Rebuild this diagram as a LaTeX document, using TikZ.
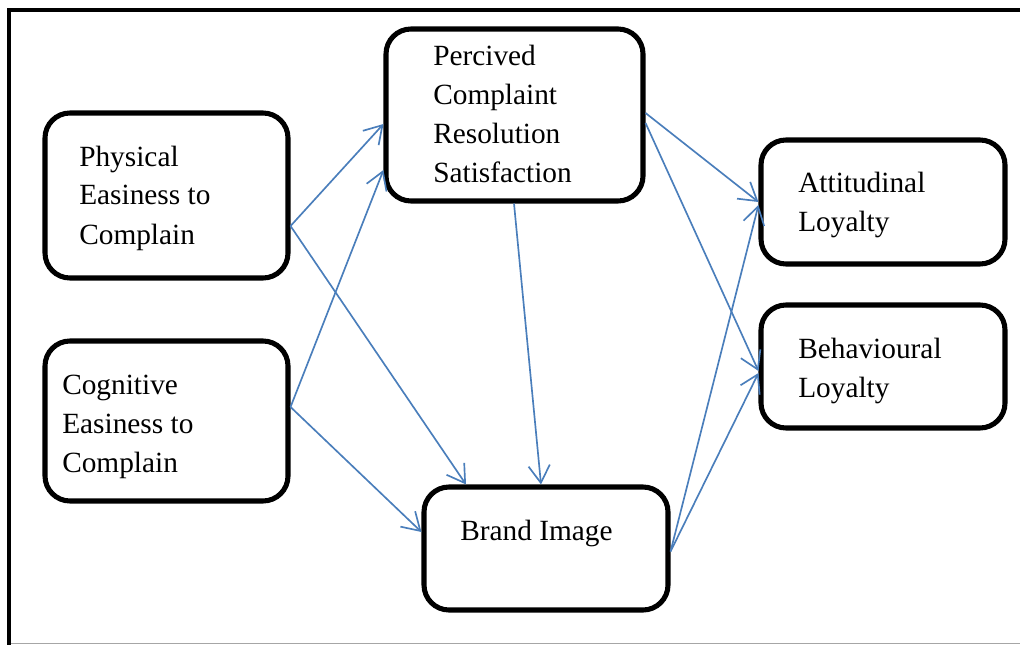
\documentclass[tikz,border=0pt]{standalone}
\usepackage{fontspec}
\setmainfont{Liberation Serif}
\usetikzlibrary{arrows.meta,calc}
\definecolor{arrowblue}{HTML}{4A7EBB}
\definecolor{framegray}{HTML}{A6A6A6}
\tikzset{
  box/.style={draw=black, line width=3.8pt, rounded corners=18.75pt, inner sep=0pt, fill=white},
  lbl/.style={anchor=base west, align=left, inner sep=0pt, font=\fontsize{22}{29.25}\selectfont},
  link/.style={draw=arrowblue, line width=1.25pt, -{Straight Barb[length=13pt,width=16pt,line width=1.25pt]}},
}
\begin{document}
\begin{tikzpicture}[x=0.75pt,y=-0.75pt]
\useasboundingbox (0,0) rectangle (1020,645);
% frame
\draw[line width=3.6pt, line join=miter] (9,645) -- (9,10) -- (1025,10);
\draw[framegray, line width=0.8pt] (11,643.3) -- (1020,643.3);
% boxes
\node[box, minimum width=182.25pt, minimum height=123.75pt] (phys) at (166.5,195.5) {};
\node[box, minimum width=182.25pt, minimum height=120pt] (cogn) at (166.5,421) {};
\node[box, minimum width=192.75pt, minimum height=129pt] (perc) at (514.5,115) {};
\node[box, minimum width=183pt, minimum height=92.25pt] (brand) at (546,548.5) {};
\node[box, minimum width=183pt, minimum height=93pt] (att) at (883,202) {};
\node[box, minimum width=183pt, minimum height=92.25pt] (beh) at (883,366.5) {};
% labels (anchor at the baseline of the last line)
\node[lbl] (physT) at (79,244) {Physical\\Easiness to\\Complain};
\node[lbl] (cognT) at (62,472) {Cognitive\\Easiness to\\Complain};
\node[lbl] (percT) at (433,183) {Percived\\Complaint\\Resolution\\Satisfaction};
\node[lbl] (brandT) at (460,540) {Brand Image};
\node[lbl] (attT) at (798,232) {Attitudinal\\Loyalty};
\node[lbl] (behT) at (798,397) {Behavioural\\Loyalty};
% connectors
\draw[link] ($(phys.east)+(0,30.5)$) -- ($(perc.west)+(0,9)$);
\draw[link] ($(phys.east)+(0,30.5)$) -- ($(brand.north)+(-80,0)$);
\draw[link] ($(cogn.east)+(0,-14)$) -- ($(perc.west)+(0,55)$);
\draw[link] ($(cogn.east)+(0,-14)$) -- ($(brand.west)+(0,-16.5)$);
\draw[link] ($(perc.east)+(0,-2)$) -- (att.west);
\draw[link] ($(perc.east)+(0,8)$) -- ($(beh.west)+(0,4.5)$);
\draw[link] ($(perc.south)+(-0.5,0)$) -- ($(brand.north)+(-5,0)$);
\draw[link] ($(brand.east)+(0,3)$) -- ($(att.west)+(0,3)$);
\draw[link] ($(brand.east)+(0,3)$) -- ($(beh.west)+(0,6.5)$);
\end{tikzpicture}
\end{document}
